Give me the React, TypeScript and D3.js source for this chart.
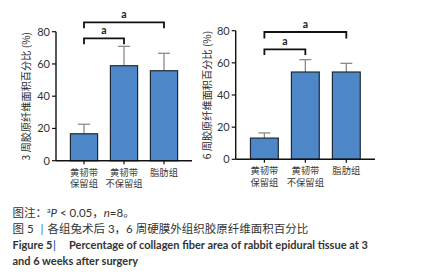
import React from "react";
import * as d3 from "d3";

const categories = [["黄韧带", "保留组"], ["黄韧带", "不保留组"], ["脂肪组"]];
const yTicks = [0, 20, 40, 60, 80];
const week3Means = [16.7, 58.9, 55.8];
const week3Errors = [5.9, 12.0, 10.8];
const week6Means = [13.2, 54.3, 54.3];
const week6Errors = [3.2, 7.7, 5.4];
// brackets: [fromIndex, toIndex, y value, leg bottom]
const week3Brackets = [[0, 1, 75.9, 72.2], [0, 2, 85.8, 82.1]];
const week6Brackets = [[0, 1, 68.4, 64.9], [0, 2, 79.2, 75.2]];
const sigLabel = "a";

const FONT = "Lato,'Noto Sans CJK SC',sans-serif";
const CJK = "'Noto Sans CJK SC',Lato,sans-serif";

function Panel({ x0, x1, yTop, yBottom, means, errors, brackets, yLabel, labelX }) {
  const x = d3.scaleBand().domain(categories.map((_, i) => String(i))).range([x0, x1]).paddingInner(0.32).paddingOuter(0.36);
  const y = d3.scaleLinear().domain([0, 80]).range([yBottom, yTop]);
  const bw = x.bandwidth();
  const cx = (i) => (x(String(i)) as number) + bw / 2;
  return (
    <g>
      {means.map((m, i) => (
        <g key={i}>
          <line x1={cx(i)} x2={cx(i)} y1={y(m)} y2={y(m + errors[i])} stroke="#8a8a8a" strokeWidth={1.3} />
          <line x1={cx(i) - 6} x2={cx(i) + 6} y1={y(m + errors[i])} y2={y(m + errors[i])} stroke="#8a8a8a" strokeWidth={1.3} />
          <rect x={x(String(i))} y={y(m)} width={bw} height={y(0) - y(m)} fill="#4d87c7" stroke="#1f2a36" strokeWidth={1.2} />
        </g>
      ))}
      <line x1={x0} x2={x0} y1={y(0)} y2={y(80)} stroke="#111" strokeWidth={1.4} />
      {yTicks.map((t) => (
        <g key={t}>
          <line x1={x0 - 4} x2={x0} y1={y(t)} y2={y(t)} stroke="#111" strokeWidth={1.2} />
          <text x={x0 - 6} y={y(t)} dy="0.35em" textAnchor="end" fontSize={11} fontFamily={FONT} fill="#333">{t}</text>
        </g>
      ))}
      <line x1={x0} x2={x1} y1={y(0)} y2={y(0)} stroke="#111" strokeWidth={1.4} />
      {categories.map((c, i) => (
        <g key={i}>
          <line x1={cx(i)} x2={cx(i)} y1={y(0)} y2={y(0) + 3.5} stroke="#111" strokeWidth={1.2} />
          <text y={y(0) + 15} textAnchor="middle" fontSize={9.3} fontFamily={CJK} fill="#3a3a3a">
            {c.map((s, j) => (
              <tspan key={j} x={cx(i)} dy={j === 0 ? 0 : 11.5}>{s}</tspan>
            ))}
          </text>
        </g>
      ))}
      {brackets.map(([a, b, v, leg], k) => (
        <g key={k}>
          <path d={`M${cx(a)},${y(leg)}V${y(v)}H${cx(b)}V${y(leg)}`} fill="none" stroke="#111" strokeWidth={1.8} />
          <text x={(cx(a) + cx(b)) / 2} y={y(v) - 4} textAnchor="middle" fontSize={10.5} fontWeight="bold" fontFamily={FONT} fill="#222">{sigLabel}</text>
        </g>
      ))}
      <text transform={`translate(${labelX},${(y(0) + y(80)) / 2}) rotate(-90)`} dy="0.35em" textAnchor="middle" fontSize={10.2} fontFamily={CJK} fill="#2a2a2a">{yLabel}</text>
    </g>
  );
}

export default function App() {
  return (
    <svg width={434} height={280} style={{ position: "absolute", left: 0, top: 0, background: "#fff" }}>
      <rect width={434} height={280} fill="#fff" />
      <Panel x0={56} x1={192} yTop={31.7} yBottom={160.7} means={week3Means} errors={week3Errors} brackets={week3Brackets} yLabel="3 周胶原纤维面积百分比 (%)" labelX={26} />
      <Panel x0={235.7} x1={375} yTop={30.7} yBottom={159.3} means={week6Means} errors={week6Errors} brackets={week6Brackets} yLabel="6 周胶原纤维面积百分比 (%)" labelX={207} />
      <g fontFamily={FONT} fill="#333" fontSize={11.5}>
        <text x={12.5} y={216.5}>
          图注：<tspan fontSize={7} dy={-4}>a</tspan><tspan dy={4} fontStyle="italic">P</tspan> &lt; 0.05，<tspan fontStyle="italic">n</tspan>=8。
        </text>
        <text x={12.5} y={233}>
          <tspan>图 5</tspan><tspan x={40.5} fill="#2f6fb5">|</tspan><tspan x={47.5}>各组兔术后 3，6 周硬膜外组织胶原纤维面积百分比</tspan>
        </text>
        <text x={12.5} y={249} fontWeight="bold" fill="#333" fontSize={11}>
          <tspan>Figure 5</tspan><tspan x={53} fill="#2f6fb5">|</tspan><tspan x={69}>Percentage of collagen fiber area of rabbit epidural tissue at 3</tspan>
        </text>
        <text x={12.5} y={265} fontWeight="bold" fill="#333" fontSize={11}>and 6 weeks after surgery</text>
      </g>
    </svg>
  );
}
